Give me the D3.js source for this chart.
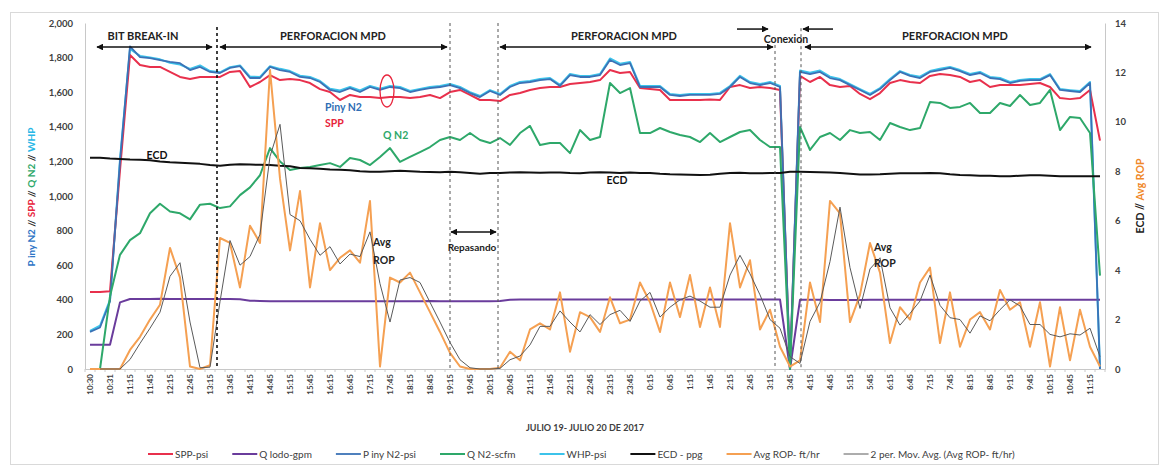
<!DOCTYPE html>
<html>
<head>
<meta charset="utf-8">
<script src="https://cdn.jsdelivr.net/npm/d3@7"></script>
<style>
  body { margin: 0; background: #fff; }
  text { font-family: Lato, "Liberation Sans", sans-serif; }
</style>
</head>
<body>
<div id="chart"></div>
<script>
// categories (one row every 15 min, labels shown every 2nd row)
var times = ["10:30","10:30","10:31","11:00","11:15","11:30","11:45","12:00","12:15","12:30","12:45","13:00","13:15","13:30","13:45","14:00","14:15","14:30","14:45","15:00",
  "15:15","15:30","15:45","16:00","16:15","16:30","16:45","17:00","17:15","17:30","17:45","18:00","18:15","18:30","18:45","19:00","19:15","19:30","19:45","20:00",
  "20:15","20:30","20:45","21:00","21:15","21:30","21:45","22:00","22:15","22:30","22:45","23:00","23:15","23:30","23:45","0:00","0:15","0:30","0:45","1:00",
  "1:15","1:30","1:45","2:00","2:15","2:30","2:45","3:00","3:15","3:30","3:45","4:00","4:15","4:30","4:45","5:00","5:15","5:30","5:45","6:00",
  "6:15","6:30","6:45","7:00","7:15","7:30","7:45","8:00","8:15","8:30","8:45","9:00","9:15","9:30","9:45","10:00","10:15","10:30","10:45","11:00",
  "11:15","11:30"];

var spp = [445,445,450,1150,1815,1757,1746,1746,1717,1688,1676,1688,1688,1688,1717,1722,1630,1659,1699,1670,
  1676,1670,1653,1618,1601,1555,1584,1572,1572,1566,1572,1572,1566,1572,1584,1566,1601,1613,1584,1555,
  1555,1549,1584,1595,1613,1624,1630,1630,1647,1653,1659,1670,1728,1711,1717,1624,1618,1613,1555,1555,
  1555,1555,1558,1555,1630,1641,1624,1630,1624,1613,0,1694,1659,1688,1641,1630,1636,1590,1560,1595,
  1653,1670,1659,1653,1694,1705,1699,1688,1659,1670,1630,1641,1641,1641,1647,1653,1630,1566,1560,1566,
  1613,1320];

var qLodo = [140,140,140,385,405,405,405,406,405,405,405,404,405,405,405,403,395,393,392,392,
  392,392,391,392,392,392,391,392,392,392,392,392,392,392,393,392,392,392,392,392,
  392,393,400,402,402,402,402,402,402,402,402,402,402,402,402,402,402,402,402,402,
  402,402,402,402,402,402,402,402,402,402,0,400,400,400,399,399,399,399,400,400,
  400,400,400,400,400,400,400,400,400,400,400,400,400,400,400,400,400,400,400,400,
  400,400];

var pInyN2 = [215,240,390,1200,1865,1803,1797,1786,1775,1768,1728,1746,1717,1711,1740,1751,1682,1682,1746,1728,
  1717,1688,1682,1659,1613,1601,1624,1601,1630,1613,1630,1624,1601,1613,1624,1630,1641,1624,1595,1572,
  1607,1584,1630,1653,1659,1670,1676,1636,1699,1688,1688,1699,1786,1757,1768,1630,1630,1630,1584,1578,
  1584,1584,1584,1590,1630,1688,1653,1641,1653,1630,0,1717,1705,1717,1682,1670,1641,1613,1584,1618,
  1670,1717,1694,1682,1717,1728,1740,1722,1699,1711,1682,1676,1653,1665,1670,1670,1699,1613,1607,1601,
  1653,0];

var qN2 = [0,0,420,660,745,785,900,955,910,900,865,950,955,930,940,1005,1050,1120,1277,1200,
  1150,1162,1168,1179,1190,1168,1220,1208,1179,1226,1277,1197,1226,1254,1283,1324,1341,1324,1364,1324,
  1306,1335,1295,1364,1405,1295,1306,1306,1248,1381,1324,1341,1653,1595,1624,1364,1364,1393,1370,1353,
  1341,1312,1364,1312,1341,1370,1381,1324,1283,1283,0,1399,1266,1341,1364,1324,1381,1364,1370,1324,
  1422,1399,1381,1393,1543,1538,1509,1515,1538,1480,1480,1538,1520,1584,1526,1538,1613,1381,1457,1451,
  1364,540];

var whp = [220,250,400,1210,1850,1810,1800,1790,1770,1760,1735,1755,1722,1715,1745,1755,1690,1688,1750,1735,
  1722,1695,1688,1665,1620,1610,1630,1610,1636,1620,1636,1630,1607,1618,1630,1636,1647,1630,1600,1578,
  1612,1590,1636,1659,1665,1676,1682,1642,1705,1694,1694,1705,1795,1765,1775,1636,1636,1636,1590,1584,
  1590,1590,1590,1596,1636,1695,1659,1647,1659,1636,0,1725,1712,1725,1690,1676,1647,1618,1590,1624,
  1676,1722,1700,1690,1722,1735,1746,1728,1705,1717,1688,1682,1659,1670,1676,1676,1705,1618,1612,1607,
  1659,0];

var ecd = [8.55,8.55,8.52,8.5,8.48,8.47,8.45,8.4,8.37,8.35,8.33,8.3,8.25,8.22,8.26,8.28,8.27,8.26,8.25,8.22,
  8.2,8.13,8.12,8.1,8.07,8.06,8.04,8.0,7.98,7.98,8.0,8.02,8.0,7.98,7.97,7.96,7.98,7.96,7.93,7.9,
  7.93,7.93,7.95,7.96,7.95,7.94,7.95,7.95,7.93,7.92,7.95,7.96,7.95,7.93,7.95,7.93,7.93,7.9,7.88,7.87,
  7.86,7.85,7.86,7.9,7.93,7.94,7.92,7.92,7.93,7.93,7.98,7.98,7.97,7.96,7.95,7.93,7.9,7.87,7.87,7.88,
  7.9,7.92,7.92,7.92,7.93,7.92,7.88,7.85,7.84,7.82,7.82,7.8,7.8,7.82,7.84,7.84,7.82,7.8,7.8,7.8,
  7.8,7.8];

var avgRop = [0,0,0,0,0.77,1.3,2.0,2.6,4.9,3.7,0.1,0,0.15,5.3,5.1,3.3,5.8,5.1,12.1,7.7,
  4.8,7.2,3.3,5.9,4.0,4.5,4.8,4.3,6.8,0.1,3.7,3.5,3.9,3.1,2.3,1.5,0.65,0.1,0,0,
  0,0.05,0.7,0.35,1.6,1.85,1.6,3.1,0.7,2.3,2.1,1.5,2.9,1.85,2.0,3.5,2.7,1.5,3.5,2.1,
  3.8,1.7,3.3,1.7,5.9,3.3,4.4,1.6,2.4,0.9,0.1,0.35,3.5,1.9,6.8,6.3,1.9,3.0,5.1,3.9,
  1.05,2.5,2.0,3.5,4.1,1.05,3.1,0.9,2.0,2.3,1.6,3.2,2.4,2.7,0.9,2.7,0.1,2.5,0.35,2.4,
  0.9,0.1];

// 2 period moving average trendline of Avg ROP
var movAvg = avgRop.map(function(d, i) { return i === 0 ? null : (d + avgRop[i - 1]) / 2; });

var leftTicks = d3.range(0, 2001, 200);
var rightTicks = d3.range(0, 15, 2);

// annotations: i = category index, v = value on left axis
var phaseLines = [ {i: 12.7, top: 1977, bold: true}, {i: 36, top: 2000}, {i: 40.8, top: 2000}, {i: 68.5, top: 1873}, {i: 71.1, top: 1970} ];
var arrows = [ {i1: 0.7, i2: 12.2, v: 1861, both: true}, {i1: 13, i2: 35.7, v: 1861, both: true},
  {i1: 36.1, i2: 40.6, v: 792, both: true}, {i1: 41, i2: 68.3, v: 1861, both: true},
  {i1: 71.5, i2: 100.1, v: 1861, both: true}, {i1: 64.7, i2: 67.8, v: 1965}, {i1: 74.3, i2: 71.3, v: 1965} ];
var notes = [
  {t: "BIT BREAK-IN", i: 5.3, v: 1925, c: "#222", s: 11, a: "middle"},
  {t: "PERFORACION MPD", i: 24.3, v: 1925, c: "#222", s: 11, a: "middle"},
  {t: "PERFORACION MPD", i: 53.4, v: 1925, c: "#222", s: 11, a: "middle"},
  {t: "PERFORACION MPD", i: 86.5, v: 1925, c: "#222", s: 11, a: "middle"},
  {t: "Conexion", i: 69.6, v: 1905, c: "#222", s: 10.5, a: "middle"},
  {t: "Repasando", i: 38.2, v: 705, c: "#222", s: 10, a: "middle"},
  {t: "ECD", i: 6.7, v: 1237, c: "#111", s: 10.5, a: "middle"},
  {t: "ECD", i: 52.7, v: 1092, c: "#111", s: 10.5, a: "middle"},
  {t: "Piny N2", i: 23.5, v: 1514, c: "#2e6db4", s: 10.5, a: "start"},
  {t: "SPP", i: 23.5, v: 1422, c: "#e8243c", s: 10.5, a: "start"},
  {t: "Q N2", i: 29.3, v: 1353, c: "#2ea86a", s: 10.5, a: "start"},
  {t: "Avg", i: 28.3, v: 734, c: "#222", s: 10.5, a: "start"},
  {t: "ROP", i: 28.3, v: 630, c: "#222", s: 10.5, a: "start"},
  {t: "Avg", i: 78.4, v: 705, c: "#222", s: 10.5, a: "start"},
  {t: "ROP", i: 78.4, v: 613, c: "#222", s: 10.5, a: "start"}
];

var width = 1164, height = 468;
var svg = d3.select("#chart").append("svg")
  .attr("width", width)
  .attr("height", height);

svg.append("rect")
  .attr("x", 10.5).attr("y", 12.5)
  .attr("width", 1148).attr("height", 452)
  .attr("fill", "#fff").attr("stroke", "#d9d9d9");

var x = d3.scaleBand().domain(d3.range(times.length)).range([85, 1105]);
var xc = function(i) { return x(i) + x.bandwidth() / 2; };
var xi = d3.scaleLinear().domain([-0.5, times.length - 0.5]).range([85, 1105]);
var yL = d3.scaleLinear().domain([0, 2000]).range([369, 23]);
var yR = d3.scaleLinear().domain([0, 14]).range([369, 23]);

// axes
var gl = svg.append("g").attr("transform", "translate(85,0)")
  .call(d3.axisLeft(yL).tickValues(leftTicks).tickFormat(d3.format(",")).tickSize(0).tickPadding(12));
var gr = svg.append("g").attr("transform", "translate(1105,0)")
  .call(d3.axisRight(yR).tickValues(rightTicks).tickSize(0).tickPadding(10));
[gl, gr].forEach(function(g) {
  g.select(".domain").attr("stroke", "#c8c8c8");
  g.selectAll("text").attr("font-size", "9.5px").attr("font-weight", "bold").attr("fill", "#404040")
    .style("font-family", "Lato, sans-serif");
});

var gx = svg.append("g").attr("transform", "translate(0,369)")
  .call(d3.axisBottom(x).tickValues(d3.range(0, times.length, 2)).tickFormat(function(i) { return times[i]; }).tickSize(0));
gx.select(".domain").attr("stroke", "#c8c8c8");
gx.selectAll("text")
  .attr("transform", "rotate(-90)")
  .attr("x", -5).attr("y", 0).attr("dy", "0.32em")
  .style("text-anchor", "end")
  .attr("font-size", "8px").attr("font-weight", "bold").attr("fill", "#404040")
  .style("font-family", "Lato, sans-serif");
// small tick marks between categories
svg.append("g").selectAll("line")
  .data(d3.range(times.length + 1))
  .enter().append("line")
    .attr("x1", function(i) { return xi(i - 0.5); })
    .attr("x2", function(i) { return xi(i - 0.5); })
    .attr("y1", 369).attr("y2", 372)
    .attr("stroke", "#c8c8c8");

// axis titles
var lt = svg.append("text")
  .attr("transform", "translate(35,197) rotate(-90)")
  .attr("text-anchor", "middle")
  .attr("font-size", "10px").attr("font-weight", "bold");
[["P iny N2", "#2e75c6"], [" // ", "#222"], ["SPP", "#e8243c"], [" // ", "#222"], ["Q N2", "#2ea86a"], [" // ", "#222"], ["WHP", "#27b7e6"]]
  .forEach(function(p) { lt.append("tspan").attr("fill", p[1]).text(p[0]); });
var rt = svg.append("text")
  .attr("transform", "translate(1144,196) rotate(-90)")
  .attr("text-anchor", "middle")
  .attr("font-size", "10.5px").attr("font-weight", "bold");
[["ECD", "#222"], [" // ", "#222"], ["Avg ROP", "#f0882a"]]
  .forEach(function(p) { rt.append("tspan").attr("fill", p[1]).text(p[0]); });

svg.append("text")
  .attr("x", 585).attr("y", 431)
  .attr("text-anchor", "middle")
  .attr("font-size", "9px").attr("font-weight", "bold").attr("fill", "#404040")
  .text("JULIO 19- JULIO 20 DE 2017");

// series
var series = [
  {name: "WHP-psi", data: whp, color: "#3cc3ea", w: 2, axis: yL},
  {name: "SPP-psi", data: spp, color: "#e8304c", w: 2, axis: yL},
  {name: "Q lodo-gpm", data: qLodo, color: "#6a3c9c", w: 2, axis: yL},
  {name: "P iny N2-psi", data: pInyN2, color: "#3b72b6", w: 1.8, axis: yL},
  {name: "Q N2-scfm", data: qN2, color: "#2ea86a", w: 2, axis: yL},
  {name: "ECD - ppg", data: ecd, color: "#111", w: 2, axis: yR},
  {name: "Avg ROP- ft/hr", data: avgRop, color: "#f5a052", w: 2, axis: yR},
  {name: "2 per. Mov. Avg. (Avg ROP- ft/hr)", data: movAvg, color: "#5a5a5a", w: 1, axis: yR}
];

series.forEach(function(s) {
  var line = d3.line()
    .defined(function(d) { return d !== null; })
    .x(function(d, i) { return xc(i); })
    .y(function(d) { return s.axis(d); });
  svg.append("path")
    .datum(s.data)
    .attr("fill", "none")
    .attr("stroke", s.color)
    .attr("stroke-width", s.w)
    .attr("stroke-linejoin", "round")
    .attr("d", line);
});

// annotations
var defs = svg.append("defs");
defs.append("marker").attr("id", "ah").attr("viewBox", "0 0 10 10")
  .attr("refX", 9).attr("refY", 5).attr("markerWidth", 4.5).attr("markerHeight", 4.5)
  .attr("orient", "auto-start-reverse")
  .append("path").attr("d", "M0,0L10,5L0,10z").attr("fill", "#111");

svg.append("g").selectAll("line")
  .data(phaseLines)
  .enter().append("line")
    .attr("x1", function(d) { return xi(d.i); })
    .attr("x2", function(d) { return xi(d.i); })
    .attr("y1", function(d) { return yL(d.top); })
    .attr("y2", yL(0))
    .attr("stroke", function(d) { return d.bold ? "#111" : "#555"; })
    .attr("stroke-width", function(d) { return d.bold ? 1.6 : 1; })
    .attr("stroke-dasharray", "3,3");

svg.append("g").selectAll("line")
  .data(arrows)
  .enter().append("line")
    .attr("x1", function(d) { return xi(d.i1); })
    .attr("x2", function(d) { return xi(d.i2); })
    .attr("y1", function(d) { return yL(d.v); })
    .attr("y2", function(d) { return yL(d.v); })
    .attr("stroke", "#111")
    .attr("stroke-width", 1.5)
    .attr("marker-end", "url(#ah)")
    .attr("marker-start", function(d) { return d.both ? "url(#ah)" : null; });

svg.append("ellipse")
  .attr("cx", xi(29.7)).attr("cy", yL(1607))
  .attr("rx", 7).attr("ry", 16)
  .attr("fill", "none").attr("stroke", "#e8243c").attr("stroke-width", 1.3);

svg.append("g").selectAll("text")
  .data(notes)
  .enter().append("text")
    .attr("x", function(d) { return xi(d.i); })
    .attr("y", function(d) { return yL(d.v); })
    .attr("dy", "0.35em")
    .attr("text-anchor", function(d) { return d.a; })
    .attr("font-size", function(d) { return d.s + "px"; })
    .attr("font-weight", "bold")
    .attr("fill", function(d) { return d.c; })
    .text(function(d) { return d.t; });

// legend
var legendOrder = ["SPP-psi", "Q lodo-gpm", "P iny N2-psi", "Q N2-scfm", "WHP-psi", "ECD - ppg", "Avg ROP- ft/hr", "2 per. Mov. Avg. (Avg ROP- ft/hr)"];
var lx = 148;
legendOrder.forEach(function(name) {
  var s = series.filter(function(d) { return d.name === name; })[0];
  svg.append("line")
    .attr("x1", lx).attr("x2", lx + 25)
    .attr("y1", 454).attr("y2", 454)
    .attr("stroke", s.color).attr("stroke-width", s.w);
  var t = svg.append("text")
    .attr("x", lx + 27).attr("y", 454).attr("dy", "0.35em")
    .attr("font-size", "10px").attr("fill", "#404040")
    .text(name);
  lx += 27 + t.node().getComputedTextLength() + 24;
});
</script>
</body>
</html>
